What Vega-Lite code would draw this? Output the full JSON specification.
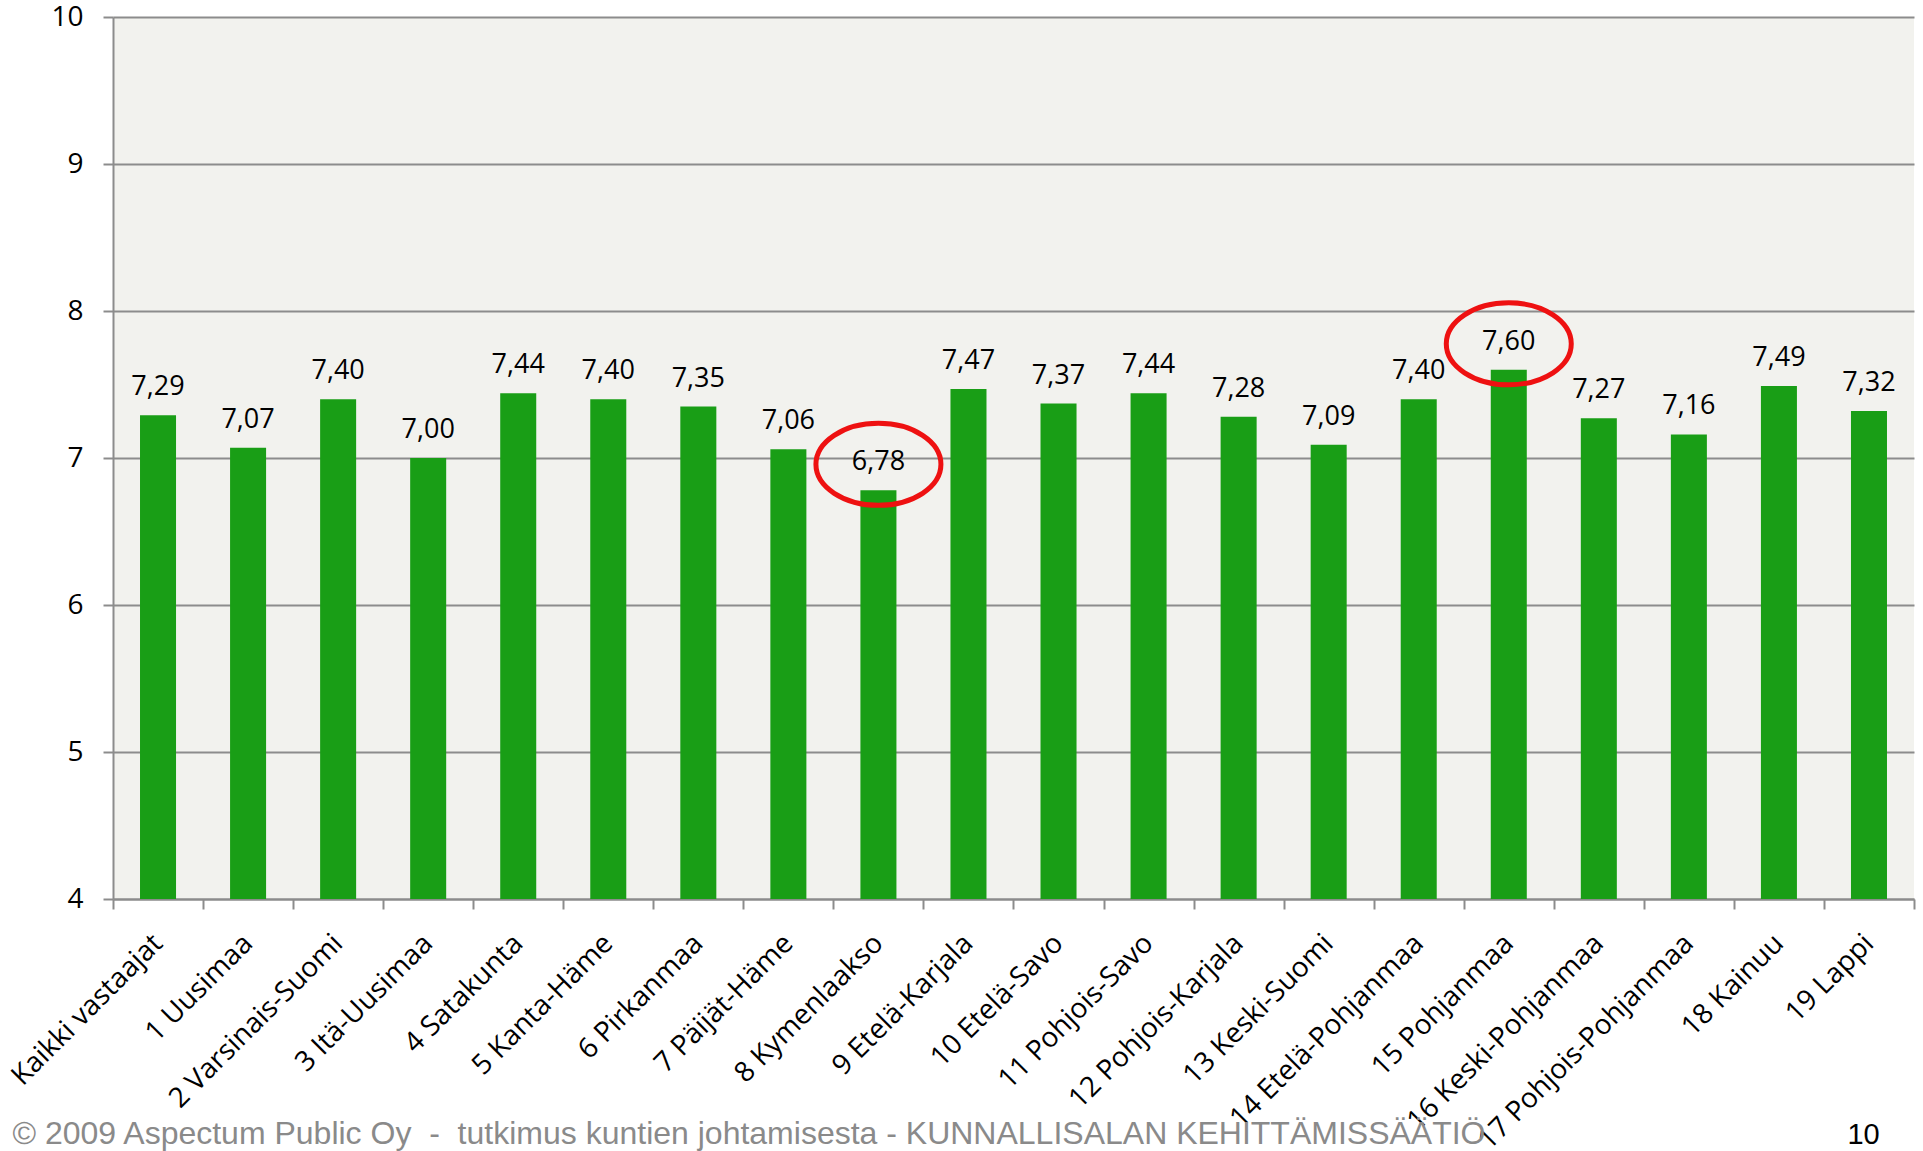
{
  "$schema": "https://vega.github.io/schema/vega-lite/v6.json",
  "width": 1801,
  "height": 882,
  "autosize": {"type": "none"},
  "padding": {"left": 113, "top": 17, "right": 9, "bottom": 252},
  "background": "white",
  "config": {
    "view": {"fill": "#f2f2ee", "stroke": null},
    "locale": {"number": {"decimal": ",", "thousands": " ", "grouping": [3], "currency": ["", " €"]}}
  },
  "data": {
    "values": [
      {"region": "Kaikki vastaajat", "value": 7.29, "circled": false},
      {"region": "1 Uusimaa", "value": 7.07, "circled": false},
      {"region": "2 Varsinais-Suomi", "value": 7.40, "circled": false},
      {"region": "3 Itä-Uusimaa", "value": 7.00, "circled": false},
      {"region": "4 Satakunta", "value": 7.44, "circled": false},
      {"region": "5 Kanta-Häme", "value": 7.40, "circled": false},
      {"region": "6 Pirkanmaa", "value": 7.35, "circled": false},
      {"region": "7 Päijät-Häme", "value": 7.06, "circled": false},
      {"region": "8 Kymenlaakso", "value": 6.78, "circled": true},
      {"region": "9 Etelä-Karjala", "value": 7.47, "circled": false},
      {"region": "10 Etelä-Savo", "value": 7.37, "circled": false},
      {"region": "11 Pohjois-Savo", "value": 7.44, "circled": false},
      {"region": "12 Pohjois-Karjala", "value": 7.28, "circled": false},
      {"region": "13 Keski-Suomi", "value": 7.09, "circled": false},
      {"region": "14 Etelä-Pohjanmaa", "value": 7.40, "circled": false},
      {"region": "15 Pohjanmaa", "value": 7.60, "circled": true},
      {"region": "16 Keski-Pohjanmaa", "value": 7.27, "circled": false},
      {"region": "17 Pohjois-Pohjanmaa", "value": 7.16, "circled": false},
      {"region": "18 Kainuu", "value": 7.49, "circled": false},
      {"region": "19 Lappi", "value": 7.32, "circled": false}
    ]
  },
  "encoding": {
    "x": {
      "field": "region",
      "type": "nominal",
      "sort": null,
      "scale": {"paddingInner": 0, "paddingOuter": 0},
      "axis": {
        "title": "© 2009 Aspectum Public Oy\u00a0\u00a0-\u00a0\u00a0tutkimus kuntien johtamisesta - KUNNALLISALAN KEHITTÄMISSÄÄTIÖ",
        "titleFont": "Liberation Sans",
        "titleFontSize": 32,
        "titleFontWeight": "normal",
        "titleColor": "#8a8a8a",
        "titleAnchor": "start",
        "titleAlign": "left",
        "titleBaseline": "alphabetic",
        "titleX": -101,
        "titleY": 244,
        "labelAngle": -45,
        "labelAlign": "right",
        "labelBaseline": "middle",
        "labelFont": "Open Sans",
        "labelFontSize": 28,
        "labelColor": "black",
        "labelPadding": 30,
        "labelOverlap": false,
        "labelLimit": 0,
        "tickBand": "extent",
        "tickSize": 10,
        "tickColor": "#8c8c8c",
        "tickWidth": 2,
        "domainColor": "#8c8c8c",
        "domainWidth": 2
      }
    }
  },
  "layer": [
    {
      "mark": {"type": "bar", "color": "#199e16", "width": {"band": 0.4}},
      "encoding": {
        "y": {
          "field": "value",
          "type": "quantitative",
          "scale": {"domain": [4, 10], "zero": false, "nice": false},
          "axis": {
            "title": "10",
            "titleFont": "Liberation Sans",
            "titleFontSize": 29,
            "titleFontWeight": "normal",
            "titleColor": "black",
            "titleAngle": 0,
            "titleAlign": "center",
            "titleBaseline": "alphabetic",
            "titleX": 1750,
            "titleY": 1126,
            "values": [4, 5, 6, 7, 8, 9, 10],
            "format": "d",
            "labelFont": "Open Sans",
            "labelFontSize": 28,
            "labelColor": "black",
            "labelPadding": 20,
            "tickSize": 10,
            "tickColor": "#8c8c8c",
            "tickWidth": 2,
            "domainColor": "#8c8c8c",
            "domainWidth": 2,
            "grid": true,
            "gridColor": "#8c8c8c",
            "gridWidth": 2
          }
        },
        "y2": {"datum": 4}
      }
    },
    {
      "mark": {"type": "text", "font": "Open Sans", "fontSize": 27, "color": "black", "baseline": "alphabetic", "dy": -20},
      "encoding": {
        "y": {"field": "value", "type": "quantitative"},
        "text": {"field": "value", "type": "quantitative", "format": ".2f"}
      }
    },
    {
      "transform": [{"filter": "datum.circled"}],
      "mark": {
        "type": "point",
        "shape": "M -1 0 A 1 0.656 0 1 0 1 0 A 1 0.656 0 1 0 -1 0 Z",
        "size": 15625,
        "filled": false,
        "stroke": "#ee1111",
        "strokeWidth": 5,
        "opacity": 1,
        "yOffset": -26
      },
      "encoding": {
        "y": {"field": "value", "type": "quantitative"}
      }
    }
  ]
}
